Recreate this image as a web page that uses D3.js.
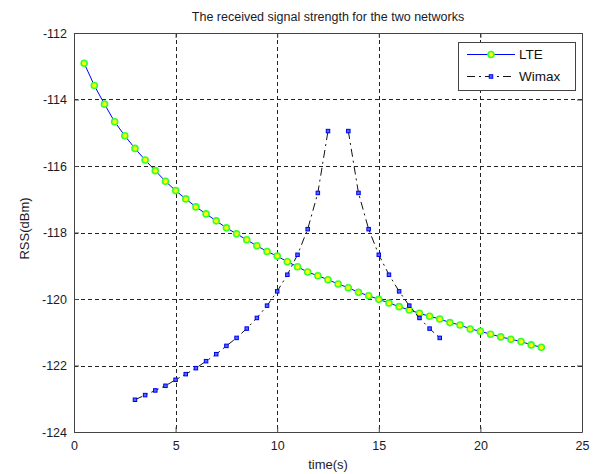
<!DOCTYPE html>
<html>
<head>
<meta charset="utf-8">
<script src="https://cdn.jsdelivr.net/npm/d3@7"></script>
<style>
  html, body { margin: 0; padding: 0; background: #fff; }
  svg { display: block; font-family: "Liberation Sans", Arial, sans-serif; }
</style>
</head>
<body>
<svg id="chart" width="595" height="474"></svg>
<script>
// LTE samples, every 0.5 s from 0.5 to 23 s
const lteTime = [0.5, 1, 1.5, 2, 2.5, 3, 3.5, 4, 4.5, 5, 5.5, 6, 6.5, 7, 7.5, 8, 8.5, 9, 9.5, 10,
  10.5, 11, 11.5, 12, 12.5, 13, 13.5, 14, 14.5, 15, 15.5, 16, 16.5, 17, 17.5, 18, 18.5, 19, 19.5,
  20, 20.5, 21, 21.5, 22, 22.5, 23]
const lteRss = [-112.91, -113.58, -114.14, -114.67, -115.09, -115.47, -115.82, -116.14, -116.46,
  -116.74, -116.99, -117.23, -117.44, -117.65, -117.86, -118.04, -118.22, -118.40, -118.57,
  -118.71, -118.88, -119.03, -119.19, -119.30, -119.42, -119.55, -119.66, -119.80, -119.90,
  -120.01, -120.12, -120.23, -120.33, -120.43, -120.52, -120.60, -120.71, -120.78, -120.90,
  -120.97, -121.06, -121.14, -121.21, -121.28, -121.38, -121.45]

// Wimax samples from 3 to 18 s (no value at 13 s)
const wimaxTime = [3, 3.5, 4, 4.5, 5, 5.5, 6, 6.5, 7, 7.5, 8, 8.5, 9, 9.5, 10, 10.5, 11, 11.5, 12,
  12.5, 13, 13.5, 14, 14.5, 15, 15.5, 16, 16.5, 17, 17.5, 18]
const wimaxRss = [-123.03, -122.89, -122.75, -122.61, -122.43, -122.26, -122.08, -121.87, -121.66,
  -121.41, -121.17, -120.89, -120.57, -120.20, -119.77, -119.27, -118.67, -117.90, -116.81,
  -114.95, null, -114.95, -116.81, -117.90, -118.67, -119.27, -119.77, -120.20, -120.57,
  -120.89, -121.17]

const xTicks = [0, 5, 10, 15, 20, 25]
const yTicks = [-124, -122, -120, -118, -116, -114, -112]

const margin = { left: 74, right: 13, top: 33, bottom: 42 }
const width = 595, height = 474
const svg = d3.select("#chart")

const x = d3.scaleLinear().domain([0, 25]).range([margin.left, width - margin.right])
const y = d3.scaleLinear().domain([-124, -112]).range([height - margin.bottom, margin.top])

const x0 = x.range()[0], x1 = x.range()[1]
const y0 = y.range()[0], y1 = y.range()[1]

// grid
const grid = svg.append("g")
  .attr("stroke", "#222")
  .attr("stroke-width", 1)
  .attr("stroke-dasharray", "4,3")
grid.selectAll("line.gx")
  .data(xTicks.slice(1, -1))
  .join("line")
  .attr("x1", d => Math.round(x(d)) + 0.5).attr("x2", d => Math.round(x(d)) + 0.5)
  .attr("y1", y1).attr("y2", y0)
grid.selectAll("line.gy")
  .data(yTicks.slice(1, -1))
  .join("line")
  .attr("y1", d => Math.round(y(d)) + 0.5).attr("y2", d => Math.round(y(d)) + 0.5)
  .attr("x1", x0).attr("x2", x1)

// axes with inside ticks
const tickLen = 5
const axisColor = "#444"
svg.append("g")
  .attr("transform", `translate(0,${y0})`)
  .call(d3.axisBottom(x).tickValues(xTicks).tickSizeInner(-tickLen).tickSizeOuter(0).tickPadding(9))
svg.append("g")
  .attr("transform", `translate(0,${y1})`)
  .call(d3.axisTop(x).tickValues(xTicks).tickSizeInner(-tickLen).tickSizeOuter(0).tickFormat(""))
svg.append("g")
  .attr("transform", `translate(${x0},0)`)
  .call(d3.axisLeft(y).tickValues(yTicks).tickSizeInner(-tickLen).tickSizeOuter(0).tickPadding(7))
svg.append("g")
  .attr("transform", `translate(${x1},0)`)
  .call(d3.axisRight(y).tickValues(yTicks).tickSizeInner(-tickLen).tickSizeOuter(0).tickFormat(""))

svg.selectAll(".domain, .tick line").attr("stroke", axisColor)
svg.selectAll(".tick text")
  .attr("fill", "#1a1a2a")
  .style("font-size", "12.5px")
  .style("font-family", "'Liberation Sans', Arial, sans-serif")
svg.selectAll(".tick text").text(function () { return this.textContent.replace("\u2212", "-") })

const lte = lteTime.map((t, i) => ({ t, v: lteRss[i] }))
const wimax = wimaxTime.map((t, i) => ({ t, v: wimaxRss[i] }))

const line = d3.line()
  .defined(d => d.v !== null)
  .x(d => x(d.t)).y(d => y(d.v))

// LTE
svg.append("path")
  .datum(lte)
  .attr("fill", "none")
  .attr("stroke", "#0000ff")
  .attr("stroke-width", 1)
  .attr("d", line)

svg.append("g")
  .selectAll("circle")
  .data(lte)
  .join("circle")
  .attr("cx", d => x(d.t)).attr("cy", d => y(d.v))
  .attr("r", 3)
  .attr("fill", "#ffff00")
  .attr("stroke", "#33ff33")
  .attr("stroke-width", 1.6)

// Wimax
svg.append("path")
  .datum(wimax)
  .attr("fill", "none")
  .attr("stroke", "#111")
  .attr("stroke-width", 1)
  .attr("stroke-dasharray", "8,4,2,4")
  .attr("d", line)

svg.append("g")
  .selectAll("rect")
  .data(wimax.filter(d => d.v !== null))
  .join("rect")
  .attr("x", d => x(d.t) - 1.75).attr("y", d => y(d.v) - 1.75)
  .attr("width", 3.5).attr("height", 3.5)
  .attr("fill", "#4a6cff")
  .attr("stroke", "#0000ee")
  .attr("stroke-width", 1)

// legend
const lg = svg.append("g").attr("transform", "translate(458,42)")
lg.append("rect")
  .attr("x", 0.5).attr("y", 0.5)
  .attr("width", 117).attr("height", 48)
  .attr("fill", "#fff")
  .attr("stroke", axisColor)
lg.append("line")
  .attr("x1", 9).attr("x2", 57).attr("y1", 12.5).attr("y2", 12.5)
  .attr("stroke", "#0000ff")
lg.append("circle")
  .attr("cx", 33).attr("cy", 12.5).attr("r", 3)
  .attr("fill", "#ffff00").attr("stroke", "#33ff33").attr("stroke-width", 1.6)
lg.append("line")
  .attr("x1", 9).attr("x2", 57).attr("y1", 34.5).attr("y2", 34.5)
  .attr("stroke", "#111")
  .attr("stroke-dasharray", "8,4,2,4")
lg.append("rect")
  .attr("x", 31.25).attr("y", 32.75).attr("width", 3.5).attr("height", 3.5)
  .attr("fill", "#4a6cff").attr("stroke", "#0000ee")
lg.selectAll("text.lbl")
  .data(["LTE", "Wimax"])
  .join("text")
  .attr("x", 61)
  .attr("y", (d, i) => 17 + i * 22)
  .attr("fill", "#111")
  .style("font-size", "13.5px")
  .text(d => d)

// titles
svg.append("text")
  .attr("x", (x0 + x1) / 2).attr("y", 21)
  .attr("text-anchor", "middle")
  .attr("fill", "#1a1a2a")
  .style("font-size", "12.5px")
  .text("The received signal strength for the two networks")

svg.append("text")
  .attr("x", (x0 + x1) / 2).attr("y", 469)
  .attr("text-anchor", "middle")
  .attr("fill", "#1a1a2a")
  .style("font-size", "13px")
  .text("time(s)")

svg.append("text")
  .attr("transform", `translate(29,${(y0 + y1) / 2 - 4}) rotate(-90)`)
  .attr("text-anchor", "middle")
  .attr("fill", "#1a1a2a")
  .style("font-size", "13px")
  .text("RSS(dBm)")
</script>
</body>
</html>
